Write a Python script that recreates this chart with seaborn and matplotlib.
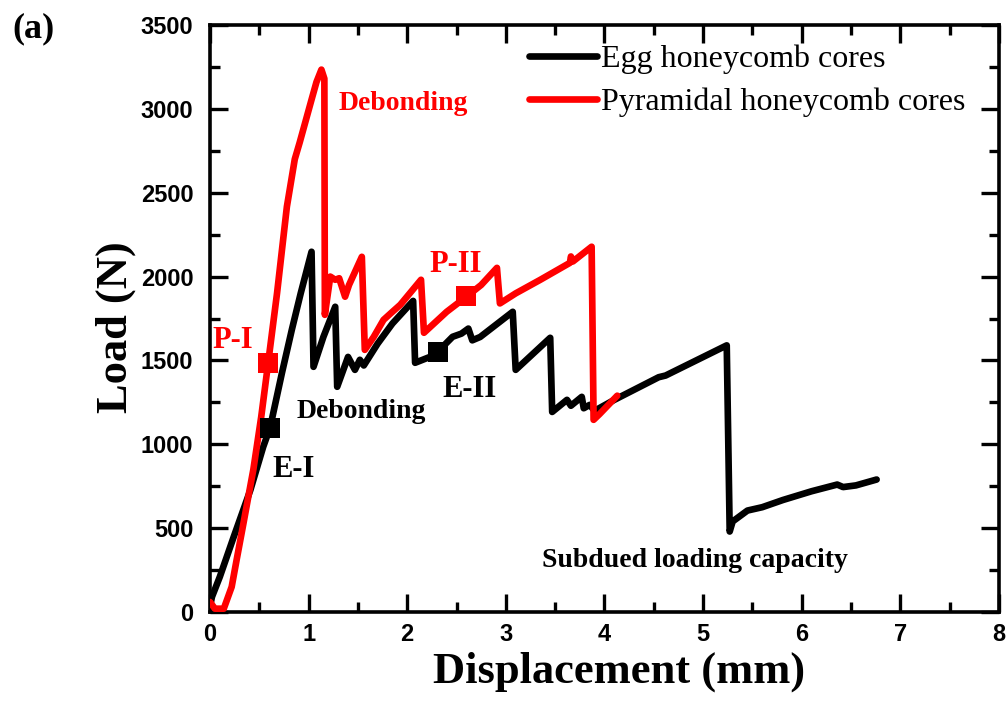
import matplotlib
matplotlib.use('Agg')
import matplotlib.pyplot as plt
from matplotlib.ticker import MultipleLocator
from matplotlib.lines import Line2D
import seaborn as sns

##############################################################################
# data
##############################################################################
# egg honeycomb cores, displacement (mm) / load (N)
egg_x = [0.00, 0.02, 0.10, 0.24, 0.41, 0.54, 0.61, 0.73, 0.83, 0.92, 1.03,
         1.05, 1.15, 1.27, 1.29, 1.40, 1.47, 1.52, 1.56, 1.70, 1.85, 2.06,
         2.08, 2.23, 2.31, 2.46, 2.55, 2.62, 2.66, 2.74, 3.07, 3.10, 3.45,
         3.47, 3.62, 3.66, 3.77, 3.79, 3.85, 3.90, 4.10, 4.55, 4.62, 5.24,
         5.27, 5.30, 5.45, 5.60, 5.81, 6.10, 6.36, 6.42, 6.55, 6.76]
egg_y = [30, 90, 210, 447, 728, 985, 1100, 1426, 1683, 1900, 2148,
         1462, 1640, 1820, 1343, 1521, 1444, 1504, 1470, 1600, 1720, 1855,
         1486, 1521, 1552, 1641, 1660, 1690, 1620, 1640, 1790, 1444, 1635,
         1193, 1265, 1230, 1283, 1215, 1235, 1200, 1265, 1400, 1410, 1590,
         480, 540, 605, 625, 668, 720, 760, 745, 755, 790]

# pyramidal honeycomb cores
pyr_x = [0.00, 0.05, 0.14, 0.22, 0.27, 0.34, 0.44, 0.52, 0.59, 0.68, 0.78,
         0.86, 0.91, 1.03, 1.08, 1.13, 1.16, 1.165, 1.22, 1.27, 1.31, 1.37,
         1.41, 1.54, 1.57, 1.66, 1.76, 1.85, 1.93, 2.14, 2.17, 2.40, 2.60,
         2.75, 2.91, 2.94, 3.10, 3.35, 3.65, 3.66, 3.68, 3.87, 3.89, 3.95,
         4.13]
pyr_y = [60, 20, 20, 150, 310, 530, 850, 1165, 1485, 1900, 2417,
         2700, 2800, 3055, 3160, 3234, 3180, 1772, 2000, 1981, 1990, 1880,
         1950, 2118, 1563, 1640, 1742, 1790, 1832, 1981, 1665, 1790, 1880,
         1950, 2052, 1840, 1900, 1981, 2082, 2120, 2090, 2178, 1146, 1180,
         1290]

# stage markers (E-I, E-II / P-I, P-II)
egg_mark_x = [0.61, 2.31]
egg_mark_y = [1100, 1552]
pyr_mark_x = [0.59, 2.60]
pyr_mark_y = [1485, 1885]

LEGEND_LABELS = ['Egg honeycomb cores', 'Pyramidal honeycomb cores']
X_LABEL = 'Displacement (mm)'
Y_LABEL = 'Load (N)'

RED = '#ff0000'
SERIF = 'Liberation Serif'
SANS = 'Liberation Sans'

##############################################################################
# plot
##############################################################################
sns.set_style('ticks')
# origin-like look: everything pure black
plt.rcParams.update({'text.color': 'black', 'axes.labelcolor': 'black',
                     'xtick.color': 'black', 'ytick.color': 'black',
                     'axes.edgecolor': 'black'})

fig = plt.figure(figsize=(10.08, 7.06), dpi=100)
ax = fig.add_axes([0.2083, 0.1331, 0.7827, 0.8315])

line_kw = dict(sort=False, estimator=None, lw=4.8, ax=ax,
               solid_joinstyle='round', solid_capstyle='round')
sns.lineplot(x=egg_x, y=egg_y, color='black', zorder=2, **line_kw)
sns.lineplot(x=pyr_x, y=pyr_y, color=RED, zorder=3, **line_kw)

sns.scatterplot(x=egg_mark_x, y=egg_mark_y, marker='s', s=190, color='black',
                edgecolor='black', linewidth=0, zorder=5, ax=ax, legend=False)
sns.scatterplot(x=pyr_mark_x, y=pyr_mark_y, marker='s', s=190, color=RED,
                edgecolor=RED, linewidth=0, zorder=5, ax=ax, legend=False)

ax.set_xlim(0, 8)
ax.set_ylim(0, 3500)
ax.xaxis.set_major_locator(MultipleLocator(1))
ax.xaxis.set_minor_locator(MultipleLocator(0.5))
ax.yaxis.set_major_locator(MultipleLocator(500))
ax.yaxis.set_minor_locator(MultipleLocator(250))

for sp in ax.spines.values():
    sp.set_linewidth(2.6)
    sp.set_visible(True)

ax.tick_params(which='both', direction='in', top=True, right=True, width=2.4)
ax.tick_params(which='major', length=13)
ax.tick_params(which='minor', length=7)
ax.tick_params(axis='x', which='major', pad=8)
ax.tick_params(axis='y', which='major', pad=12)

for lab in ax.get_xticklabels() + ax.get_yticklabels():
    lab.set_fontfamily(SANS)
    lab.set_fontweight('bold')
    lab.set_fontsize(17)

ax.set_xlabel(X_LABEL, fontfamily=SERIF, fontweight='bold', fontsize=32)
ax.set_ylabel(Y_LABEL, fontfamily=SERIF, fontweight='bold', fontsize=32)
ax.xaxis.set_label_coords(0.519, -0.068)
ax.yaxis.set_label_coords(-0.094, 0.486)

# annotations
txt = dict(fontfamily=SERIF, fontweight='bold', ha='left', va='baseline')
ax.text(1.30, 2993, 'Debonding', color=RED, fontsize=20, **txt)
ax.text(0.02, 1574, 'P-I', color=RED, fontsize=22, **txt)
ax.text(2.23, 2027, 'P-II', color=RED, fontsize=22, **txt)
ax.text(0.88, 1157, 'Debonding', color='black', fontsize=20, **txt)
ax.text(0.63, 805, 'E-I', color='black', fontsize=22, **txt)
ax.text(2.36, 1282, 'E-II', color='black', fontsize=22, **txt)
ax.text(3.37, 268, 'Subdued loading capacity', color='black', fontsize=20, **txt)

fig.text(12 / 1008, 1 - 12 / 706, '(a)', fontfamily=SERIF, fontweight='bold',
         fontsize=26, ha='left', va='top')

handles = [Line2D([], [], color='black', lw=4.8, solid_capstyle='round'),
           Line2D([], [], color=RED, lw=4.8, solid_capstyle='round')]
ax.legend(handles, LEGEND_LABELS, loc='upper left', bbox_to_anchor=(0.405, 0.966),
          frameon=False, prop=dict(family=SERIF, size=23), handlelength=2.1,
          handletextpad=0.15, labelspacing=0.42, borderpad=0, borderaxespad=0)

plt.savefig('out.png', dpi=100)
